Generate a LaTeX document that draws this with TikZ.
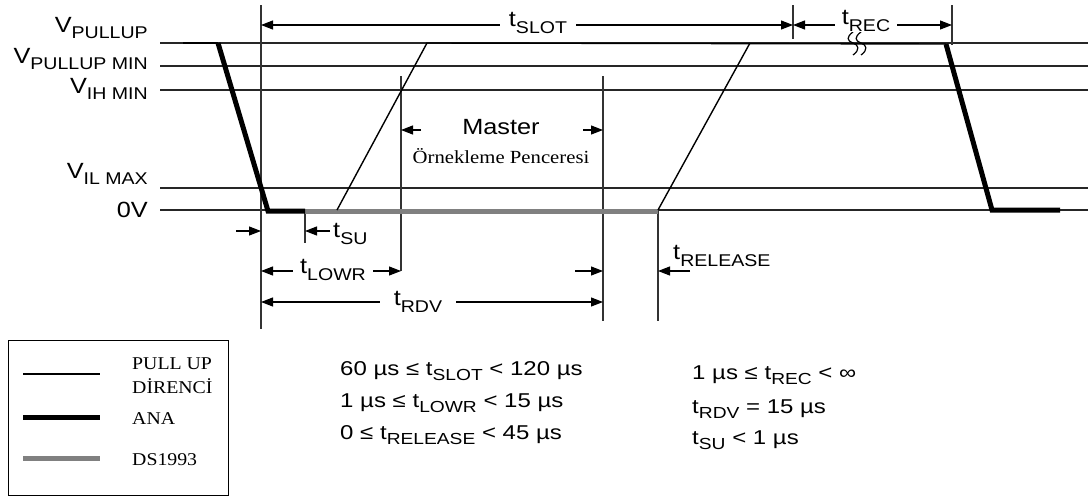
\documentclass[tikz,border=0pt]{standalone}
\usepackage{fontspec}
\setmainfont{Liberation Sans}
\newfontfamily\serifT{Liberation Serif}
\usetikzlibrary{arrows.meta}
\newcommand{\sbx}[1]{\raisebox{-6.5pt}{\fontsize{17}{17}\selectfont #1}}
\newcommand{\sbe}[1]{\raisebox{-5.5pt}{\fontsize{16}{16}\selectfont #1}}
\begin{document}
\begin{tikzpicture}[x=1pt,y=-1pt,
  txt/.style={inner sep=0pt, xscale=1.15, font=\fontsize{22}{26}\selectfont},
  eqn/.style={inner sep=0pt, xscale=1.2, font=\fontsize{20}{24}\selectfont, anchor=base west},
  sertxt/.style={inner sep=0pt, xscale=1.1, font=\serifT\fontsize{18}{21}\selectfont, anchor=base west},
  refline/.style={draw=black!85, line width=1.1pt},
  thinsig/.style={draw=black, line width=1.4pt},
  anasig/.style={draw=black, line width=5pt, line join=miter},
  dssig/.style={draw=black!50, line width=5pt},
  guide/.style={draw=black!80, line width=1.2pt},
  dim/.style={draw=black, line width=1.1pt, -{Triangle[length=12pt,width=9pt]}},
  dimb/.style={draw=black, line width=1.1pt, {Triangle[length=12pt,width=9pt]}-{Triangle[length=12pt,width=9pt]}},
  gap/.style={fill=white, inner xsep=8pt, inner ysep=1pt}
]
\useasboundingbox (0,0) rectangle (1088,501);

% reference levels
\foreach \nm/\yy in {pu/43, pumin/66, ihmin/90, ilmax/188, zero/210}{
  \coordinate (\nm L) at (160,\yy);
  \coordinate (\nm R) at (1088,\yy);
  \draw[refline] (\nm L) -- (\nm R);
}

% level labels
\node[txt, anchor=base east] (lpu) at (148,32) {V\sbx{PULLUP}};
\node[txt, anchor=base east] (lpumin) at (148,63) {V\sbx{PULLUP MIN}};
\node[txt, anchor=base east] (lihmin) at (148,93) {V\sbx{IH MIN}};
\node[txt, anchor=base east] (lilmax) at (148,178) {V\sbx{IL MAX}};
\node[txt, anchor=base east] (lzero) at (148,217) {0V};

% guide verticals
\coordinate (v1t) at (261,5);    \coordinate (v1b) at (261,329);
\coordinate (v2t) at (793,5);    \coordinate (v2b) at (793,39);
\coordinate (v3t) at (952,5);    \coordinate (v3b) at (952,45);
\coordinate (v4t) at (401,76);   \coordinate (v4b) at (401,271);
\coordinate (v5t) at (603,76);   \coordinate (v5b) at (603,321);
\coordinate (v6t) at (658,210);  \coordinate (v6b) at (658,321);
\coordinate (v7t) at (305,210);  \coordinate (v7b) at (305,243);
\foreach \v in {v1,v2,v3,v4,v5,v6,v7}{\draw[guide] (\v t) -- (\v b);}

% signal
\coordinate (s0) at (183,43);
\coordinate (s1) at (218,43);
\coordinate (s2) at (268,211);
\coordinate (s3) at (305,211);
\coordinate (s4) at (658,211);
\coordinate (r1a) at (337,210);
\coordinate (r1b) at (427,43);
\coordinate (r2a) at (658,210);
\coordinate (r2b) at (750,43);
\coordinate (f1) at (946,44);
\coordinate (f2) at (992,210);
\coordinate (f3) at (1060,210);
\draw[thinsig] (s0) -- (s1);
\draw[dssig] (s3) -- (s4);
\draw[anasig] (s1) -- (s2) -- (s3);
\draw[thinsig] (r1a) -- (r1b) -- (f1);
\draw[thinsig] (r2a) -- (r2b);
\draw[anasig] (f1) -- (f2) -- (f3);

% break mark
\foreach \xx in {853,861}{
  \draw[black, line width=1.2pt] (\xx,32) .. controls (\xx-7,37) and (\xx-6,41) .. (\xx,43)
        .. controls (\xx+6,45) and (\xx+7,50) .. (\xx,55);
}

% tSLOT
\coordinate (tsL) at (261,25); \coordinate (tsR) at (793,25);
\draw[dimb] (tsL) -- (tsR);
\node[txt, gap] (tslot) at (538,23) {t\sbx{SLOT}};
% tREC
\coordinate (trL) at (793,25); \coordinate (trR) at (952,25);
\draw[dimb] (trL) -- (trR);
\node[txt, gap, inner xsep=6pt] (trec) at (866,21) {t\sbx{REC}};

% Master window
\coordinate (mL0) at (421,130); \coordinate (mL1) at (401,130);
\coordinate (mR0) at (583,130); \coordinate (mR1) at (603,130);
\draw[dim] (mL0) -- (mL1);
\draw[dim] (mR0) -- (mR1);
\node[txt, font=\fontsize{22}{26}\selectfont] (master) at (501,127) {Master};
\node[inner sep=0pt, xscale=1.12, font=\serifT\fontsize{18.5}{21}\selectfont] (orn) at (501,156) {Örnekleme Penceresi};

% tSU
\coordinate (su0) at (236,231); \coordinate (su1) at (261,231);
\coordinate (su2) at (330,231); \coordinate (su3) at (305,231);
\draw[dim] (su0) -- (su1);
\draw[dim] (su2) -- (su3);
\node[txt, anchor=west] (tsu) at (333,234) {t\sbx{SU}};

% tLOWR
\coordinate (lw0) at (261,271); \coordinate (lw1) at (401,271);
\draw[dimb] (lw0) -- (lw1);
\node[txt, gap, inner xsep=6pt] (tlowr) at (333,270) {t\sbx{LOWR}};

% tRDV
\coordinate (rd0) at (261,302); \coordinate (rd1) at (603,302);
\draw[dimb] (rd0) -- (rd1);
\node[txt, gap, inner xsep=12pt] (trdv) at (418,302) {t\sbx{RDV}};

% tRELEASE
\coordinate (rl0) at (575,271); \coordinate (rl1) at (603,271);
\coordinate (rl2) at (690,271); \coordinate (rl3) at (658,271);
\draw[dim] (rl0) -- (rl1);
\draw[dim] (rl2) -- (rl3);
\node[txt, anchor=west] (trel) at (673,256) {t\sbx{RELEASE}};

% legend
\node[draw=black, line width=1.1pt, minimum width=220pt, minimum height=155pt, inner sep=0pt, anchor=north west] (legend) at (8,340) {};
\coordinate (lg1a) at (23,374); \coordinate (lg1b) at (100,374);
\coordinate (lg2a) at (23,417); \coordinate (lg2b) at (100,417);
\coordinate (lg3a) at (23,458); \coordinate (lg3b) at (100,458);
\draw[thinsig] (lg1a) -- (lg1b);
\draw[draw=black, line width=5pt] (lg2a) -- (lg2b);
\draw[dssig] (lg3a) -- (lg3b);
\node[sertxt] (lgt1) at (132,369) {PULL UP};
\node[sertxt] (lgt2) at (132,393) {DİRENCİ};
\node[sertxt] (lgt3) at (132,424) {ANA};
\node[sertxt] (lgt4) at (132,465) {DS1993};

% equations
\node[eqn] (eq1) at (340,375) {60 µs ≤ t\sbe{SLOT} < 120 µs};
\node[eqn] (eq2) at (340,407) {1 µs ≤ t\sbe{LOWR} < 15 µs};
\node[eqn] (eq3) at (340,439) {0 ≤ t\sbe{RELEASE} < 45 µs};
\node[eqn] (eq4) at (692,379) {1 µs ≤ t\sbe{REC} < ∞};
\node[eqn] (eq5) at (692,413) {t\sbe{RDV} = 15 µs};
\node[eqn] (eq6) at (692,444) {t\sbe{SU} < 1 µs};
\end{tikzpicture}
\end{document}
